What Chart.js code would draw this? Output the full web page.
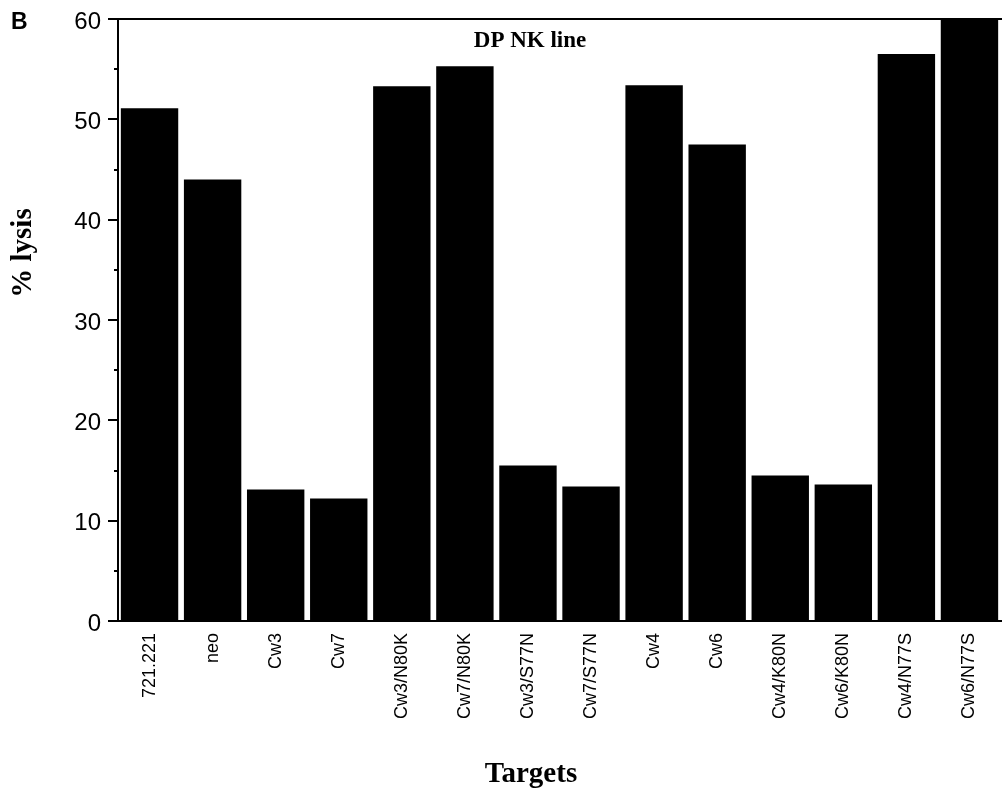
<!DOCTYPE html>
<html>
<head>
<meta charset="utf-8">
<script src="https://cdn.jsdelivr.net/npm/chart.js@4"></script>
<style>
  html, body { margin: 0; padding: 0; background: #fff; }
  #wrap { width: 1004px; height: 793px; }
</style>
</head>
<body>
<div id="wrap"><canvas id="lysisChart" width="1004" height="793"></canvas></div>
<script>
const targets = ['721.221', 'neo', 'Cw3', 'Cw7', 'Cw3/N80K', 'Cw7/N80K', 'Cw3/S77N', 'Cw7/S77N',
                 'Cw4', 'Cw6', 'Cw4/K80N', 'Cw6/K80N', 'Cw4/N77S', 'Cw6/N77S'];
const lysis = [51.1, 44.0, 13.1, 12.2, 53.3, 55.3, 15.5, 13.4, 53.4, 47.5, 14.5, 13.6, 56.5, 60.6];
const yTicks = [0, 10, 20, 30, 40, 50, 60];

const serif = '"Liberation Serif", "DejaVu Serif", serif';
const sans = '"Liberation Sans", Arial, sans-serif';

// panel letter, inner title and the two axis titles, drawn as text on the canvas
const labelsPlugin = {
    id: 'labels',
    afterDraw(chart) {
        const ctx = chart.ctx;
        ctx.save();
        ctx.fillStyle = '#000';
        ctx.font = 'bold 23px ' + sans;
        ctx.textAlign = 'left';
        ctx.textBaseline = 'alphabetic';
        ctx.fillText('B', 11, 29);

        ctx.font = 'bold 23px ' + serif;
        ctx.textAlign = 'center';
        ctx.fillText('DP NK line', 530, 47);

        ctx.font = 'bold 29px ' + serif;
        ctx.fillText('Targets', 531, 782);

        ctx.translate(31, 253);
        ctx.rotate(-Math.PI / 2);
        ctx.font = 'bold 29px ' + serif;
        ctx.fillText('% lysis', 0, 0);
        ctx.restore();
    }
};

new Chart(document.getElementById('lysisChart'), {
    type: 'bar',
    data: {
        labels: targets,
        datasets: [{
            label: '% lysis',
            data: lysis,
            backgroundColor: '#000',
            borderWidth: 0,
            barPercentage: 0.91,
            categoryPercentage: 1.0
        }]
    },
    options: {
        responsive: false,
        animation: false,
        layout: { padding: { top: 19, right: 3, left: 0, bottom: 0 } },
        plugins: {
            legend: { display: false },
            tooltip: { enabled: false }
        },
        scales: {
            x: {
                grid: { display: false, drawTicks: false },
                border: { display: true, color: '#000', width: 2 },
                ticks: {
                    color: '#000',
                    font: { family: sans, size: 18 },
                    minRotation: 90,
                    maxRotation: 90,
                    padding: 12,
                    autoSkip: false
                },
                afterFit(scale) { scale.height = 172; }
            },
            xTop: {
                position: 'top',
                grid: { display: false, drawTicks: false },
                border: { display: true, color: '#000', width: 2 },
                ticks: { display: false },
                afterFit(scale) { scale.height = 0; }
            },
            y: {
                min: 0,
                max: 60,
                weight: 1,
                afterBuildTicks(scale) { scale.ticks = yTicks.map(v => ({ value: v })); },
                grid: { drawOnChartArea: false, color: '#000', tickLength: 10, lineWidth: 2 },
                border: { display: true, color: '#000', width: 2 },
                ticks: {
                    color: '#000',
                    font: { family: sans, size: 24 },
                    padding: 7,
                    labelOffset: 3
                },
                afterFit(scale) {
                    scale.width = 118;
                    scale.paddingTop = 0;
                    scale.paddingBottom = 0;
                }
            },
            yMinor: {
                position: 'left',
                min: 0,
                max: 60,
                weight: 0,
                ticks: { display: false, stepSize: 5 },
                grid: { drawOnChartArea: false, color: '#000', tickLength: 4, lineWidth: 2 },
                border: { display: false },
                afterFit(scale) { scale.width = 0; }
            }
        }
    },
    plugins: [labelsPlugin]
});
</script>
</body>
</html>
